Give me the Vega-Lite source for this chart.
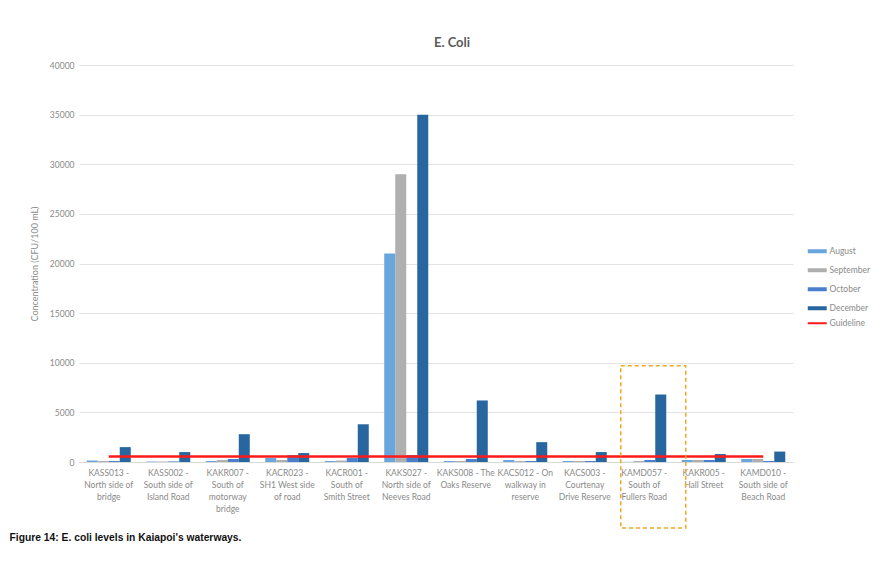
{
  "$schema": "https://vega.github.io/schema/vega-lite/v6.json",
  "autosize": {"type": "none"},
  "width": 714,
  "height": 397,
  "padding": {"left": 79, "top": 65, "right": 102, "bottom": 122},
  "background": "#ffffff",
  "config": {
    "font": "Lato",
    "view": {"stroke": null},
    "axis": {"labelColor": "#8a8a8a", "titleColor": "#8a8a8a", "labelFont": "Lato", "titleFont": "Lato"}
  },
  "title": {
    "text": "E. Coli",
    "anchor": "middle",
    "dx": 16,
    "offset": 11,
    "fontSize": 13,
    "fontWeight": "bold",
    "color": "#5a5a5a",
    "font": "Lato"
  },
  "datasets": {
    "ecoli": [
      {"site": "KASS013 -|North side of|bridge", "month": "August", "cfu": 150},
      {"site": "KASS013 -|North side of|bridge", "month": "September", "cfu": 100},
      {"site": "KASS013 -|North side of|bridge", "month": "October", "cfu": 100},
      {"site": "KASS013 -|North side of|bridge", "month": "December", "cfu": 1500},
      {"site": "KASS002 -|South side of|Island Road", "month": "August", "cfu": 50},
      {"site": "KASS002 -|South side of|Island Road", "month": "September", "cfu": 50},
      {"site": "KASS002 -|South side of|Island Road", "month": "October", "cfu": 60},
      {"site": "KASS002 -|South side of|Island Road", "month": "December", "cfu": 1000},
      {"site": "KAKR007 -|South of|motorway|bridge", "month": "August", "cfu": 100},
      {"site": "KAKR007 -|South of|motorway|bridge", "month": "September", "cfu": 200},
      {"site": "KAKR007 -|South of|motorway|bridge", "month": "October", "cfu": 300},
      {"site": "KAKR007 -|South of|motorway|bridge", "month": "December", "cfu": 2800},
      {"site": "KACR023 -|SH1 West side|of road", "month": "August", "cfu": 400},
      {"site": "KACR023 -|SH1 West side|of road", "month": "September", "cfu": 200},
      {"site": "KACR023 -|SH1 West side|of road", "month": "October", "cfu": 700},
      {"site": "KACR023 -|SH1 West side|of road", "month": "December", "cfu": 900},
      {"site": "KACR001 -|South of|Smith Street", "month": "August", "cfu": 100},
      {"site": "KACR001 -|South of|Smith Street", "month": "September", "cfu": 150},
      {"site": "KACR001 -|South of|Smith Street", "month": "October", "cfu": 400},
      {"site": "KACR001 -|South of|Smith Street", "month": "December", "cfu": 3800},
      {"site": "KAKS027 -|North side of|Neeves Road", "month": "August", "cfu": 21000},
      {"site": "KAKS027 -|North side of|Neeves Road", "month": "September", "cfu": 29000},
      {"site": "KAKS027 -|North side of|Neeves Road", "month": "October", "cfu": 700},
      {"site": "KAKS027 -|North side of|Neeves Road", "month": "December", "cfu": 35000},
      {"site": "KAKS008 - The|Oaks Reserve", "month": "August", "cfu": 100},
      {"site": "KAKS008 - The|Oaks Reserve", "month": "September", "cfu": 100},
      {"site": "KAKS008 - The|Oaks Reserve", "month": "October", "cfu": 300},
      {"site": "KAKS008 - The|Oaks Reserve", "month": "December", "cfu": 6200},
      {"site": "KACS012 - On|walkway in|reserve", "month": "August", "cfu": 200},
      {"site": "KACS012 - On|walkway in|reserve", "month": "September", "cfu": 100},
      {"site": "KACS012 - On|walkway in|reserve", "month": "October", "cfu": 100},
      {"site": "KACS012 - On|walkway in|reserve", "month": "December", "cfu": 2000},
      {"site": "KACS003 -|Courtenay|Drive Reserve", "month": "August", "cfu": 100},
      {"site": "KACS003 -|Courtenay|Drive Reserve", "month": "September", "cfu": 100},
      {"site": "KACS003 -|Courtenay|Drive Reserve", "month": "October", "cfu": 100},
      {"site": "KACS003 -|Courtenay|Drive Reserve", "month": "December", "cfu": 1000},
      {"site": "KAMD057 -|South of|Fullers Road", "month": "August", "cfu": 20},
      {"site": "KAMD057 -|South of|Fullers Road", "month": "September", "cfu": 100},
      {"site": "KAMD057 -|South of|Fullers Road", "month": "October", "cfu": 200},
      {"site": "KAMD057 -|South of|Fullers Road", "month": "December", "cfu": 6800},
      {"site": "KAKR005 -|Hall Street", "month": "August", "cfu": 200},
      {"site": "KAKR005 -|Hall Street", "month": "September", "cfu": 200},
      {"site": "KAKR005 -|Hall Street", "month": "October", "cfu": 200},
      {"site": "KAKR005 -|Hall Street", "month": "December", "cfu": 800},
      {"site": "KAMD010 -|South side of|Beach Road", "month": "August", "cfu": 300},
      {"site": "KAMD010 -|South side of|Beach Road", "month": "September", "cfu": 300},
      {"site": "KAMD010 -|South side of|Beach Road", "month": "October", "cfu": 100},
      {"site": "KAMD010 -|South side of|Beach Road", "month": "December", "cfu": 1050}
    ],
    "guideline": [
      {"site": "KASS013 -|North side of|bridge", "series": "Guideline", "cfu": 550},
      {"site": "KASS002 -|South side of|Island Road", "series": "Guideline", "cfu": 550},
      {"site": "KAKR007 -|South of|motorway|bridge", "series": "Guideline", "cfu": 550},
      {"site": "KACR023 -|SH1 West side|of road", "series": "Guideline", "cfu": 550},
      {"site": "KACR001 -|South of|Smith Street", "series": "Guideline", "cfu": 550},
      {"site": "KAKS027 -|North side of|Neeves Road", "series": "Guideline", "cfu": 550},
      {"site": "KAKS008 - The|Oaks Reserve", "series": "Guideline", "cfu": 550},
      {"site": "KACS012 - On|walkway in|reserve", "series": "Guideline", "cfu": 550},
      {"site": "KACS003 -|Courtenay|Drive Reserve", "series": "Guideline", "cfu": 550},
      {"site": "KAMD057 -|South of|Fullers Road", "series": "Guideline", "cfu": 550},
      {"site": "KAKR005 -|Hall Street", "series": "Guideline", "cfu": 550},
      {"site": "KAMD010 -|South side of|Beach Road", "series": "Guideline", "cfu": 550}
    ],
    "highlight": [
      {"site": "KAMD057 -|South of|Fullers Road", "top": 9700, "bottom": -6650}
    ]
  },
  "encoding": {
    "x": {
      "field": "site",
      "type": "nominal",
      "sort": null,
      "scale": {"paddingInner": 0.26, "paddingOuter": 0.13},
      "axis": {
        "title": "Figure 14: E. coli levels in Kaiapoi's waterways.",
        "titleFont": "Liberation Sans",
        "titleFontSize": 10.3,
        "titleFontWeight": "bold",
        "titleColor": "#111111",
        "titleAnchor": "start",
        "titleAlign": "left",
        "titleX": -70,
        "titleY": 70,
        "labelExpr": "split(datum.value, '|')",
        "labelAngle": 0,
        "labelFontSize": 8.5,
        "labelLineHeight": 12,
        "labelPadding": 6,
        "labelColor": "#8a8a8a",
        "ticks": false,
        "domainColor": "#d9d9d9",
        "labelLimit": 0
      }
    }
  },
  "layer": [
    {
      "data": {"name": "ecoli"},
      "mark": {"type": "bar"},
      "encoding": {
        "xOffset": {"field": "month", "type": "nominal", "sort": ["August", "September", "October", "December"], "scale": {"paddingInner": 0, "paddingOuter": 0}},
        "y": {
          "field": "cfu",
          "type": "quantitative",
          "scale": {"domain": [0, 40000]},
          "axis": {
            "title": "Concentration (CFU/100 mL)",
            "titleFontSize": 9,
            "titleFontWeight": "normal",
            "titlePadding": 10,
            "format": "d",
            "values": [0, 5000, 10000, 15000, 20000, 25000, 30000, 35000, 40000],
            "labelFontSize": 8.5,
            "labelPadding": 5,
            "ticks": false,
            "domain": false,
            "gridColor": "#e3e3e3"
          }
        },
        "color": {
          "field": "month",
          "type": "nominal",
          "scale": {
            "domain": ["August", "September", "October", "December", "Guideline"],
            "range": ["#6aa6de", "#afafaf", "#4a7fcb", "#27669f", "#ff1a1a"]
          },
          "legend": {
            "title": null,
            "orient": "none",
            "legendX": 734,
            "legendY": 182,
            "symbolType": "stroke",
            "symbolSize": 361,
            "symbolStrokeWidth": 4,
            "labelFontSize": 8.5,
            "labelColor": "#8a8a8a",
            "rowPadding": 2,
            "labelOffset": 8,
            "encode": {
              "symbols": {
                "update": {
                  "stroke": {"scale": "color", "field": "value"},
                  "strokeWidth": {"signal": "datum.value === 'Guideline' ? 2 : 4"}
                }
              }
            }
          }
        }
      }
    },
    {
      "data": {"name": "guideline"},
      "mark": {"type": "line", "strokeWidth": 2.5},
      "encoding": {
        "y": {"field": "cfu", "type": "quantitative"},
        "color": {"field": "series", "type": "nominal"}
      }
    },
    {
      "data": {"name": "highlight"},
      "mark": {"type": "rect", "fill": null, "stroke": "#f5a623", "strokeWidth": 1.5, "strokeDash": [4, 3], "width": 65, "xOffset": 9},
      "encoding": {
        "y": {"field": "top", "type": "quantitative"},
        "y2": {"field": "bottom"}
      }
    }
  ]
}
